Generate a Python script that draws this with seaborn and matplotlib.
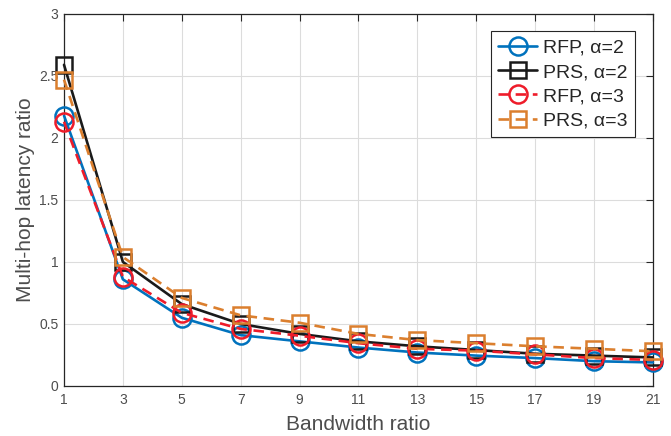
import matplotlib
matplotlib.use("Agg")
import matplotlib.pyplot as plt
import numpy as np
import pandas as pd
import seaborn as sns

# bandwidth ratio on x
bw_ratio = [1, 3, 5, 7, 9, 11, 13, 15, 17, 19, 21]

rfp_a2 = [2.18, 0.86, 0.55, 0.41, 0.36, 0.31, 0.27, 0.245, 0.225, 0.20, 0.19]
prs_a2 = [2.59, 1.00, 0.66, 0.50, 0.42, 0.36, 0.32, 0.29, 0.26, 0.245, 0.23]
rfp_a3 = [2.13, 0.88, 0.59, 0.46, 0.405, 0.345, 0.30, 0.285, 0.255, 0.225, 0.21]
prs_a3 = [2.47, 1.04, 0.71, 0.57, 0.51, 0.42, 0.37, 0.345, 0.32, 0.30, 0.28]

series_names = ["RFP, α=2", "PRS, α=2", "RFP, α=3", "PRS, α=3"]
x_ticks = list(range(1, 22, 2))
y_ticks = [0, 0.5, 1, 1.5, 2, 2.5, 3]

df = pd.DataFrame({
    "bw": bw_ratio * 4,
    "latency": rfp_a2 + prs_a2 + rfp_a3 + prs_a3,
    "series": np.repeat(series_names, len(bw_ratio)),
})

sns.set_theme(style="white")
plt.rcParams["font.family"] = ["Liberation Sans", "DejaVu Sans"]

styles = {
    "RFP, α=2": dict(color="#0072BD", marker="o", ls="-", ms=13),
    "PRS, α=2": dict(color="#1A1A1A", marker="s", ls="-", ms=11),
    "RFP, α=3": dict(color="#EE1C2A", marker="o", ls=(0, (4, 2.5)), ms=13),
    "PRS, α=3": dict(color="#DB7F2E", marker="s", ls=(0, (4, 2.5)), ms=11),
}

fig = plt.figure(figsize=(6.71, 4.36), dpi=100)
ax = fig.add_axes([0.0954, 0.1147, 0.8776, 0.8533])

for name in series_names:
    st = styles[name]
    sub = df[df["series"] == name]
    sns.lineplot(data=sub, x="bw", y="latency", ax=ax, color=st["color"],
                 marker=st["marker"], markersize=st["ms"], markerfacecolor="none",
                 markeredgecolor=st["color"], markeredgewidth=1.8,
                 linestyle=st["ls"], linewidth=1.9, label=name, clip_on=False,
                 zorder=3)

ax.set_xlim(1, 21)
ax.set_ylim(0, 3)
ax.set_xticks(x_ticks)
ax.set_yticks(y_ticks)
ax.set_yticklabels(["0", "0.5", "1", "1.5", "2", "2.5", "3"])
ax.grid(True, color="#DCDCDC", lw=0.8)
for s in ax.spines.values():
    s.set_color("#262626")
    s.set_linewidth(0.9)
ax.tick_params(direction="in", length=5, width=0.8, colors="#262626",
               labelcolor="#4D4D4D", labelsize=10, top=True, right=True, pad=5)
ax.tick_params(axis="y", pad=4)
ax.set_xlabel("Bandwidth ratio", fontsize=15, color="#4D4D4D", labelpad=6)
ax.set_ylabel("Multi-hop latency ratio", fontsize=15, color="#4D4D4D", labelpad=3)

leg = ax.legend(loc="upper right", fontsize=14, frameon=True, fancybox=False,
                edgecolor="#262626", framealpha=1, handlelength=2.0,
                handletextpad=0.3, borderpad=0.4, labelspacing=0.34,
                borderaxespad=0.9)
leg.get_frame().set_linewidth(0.8)
leg.set_zorder(5)

fig.savefig("out.png", dpi=100)
